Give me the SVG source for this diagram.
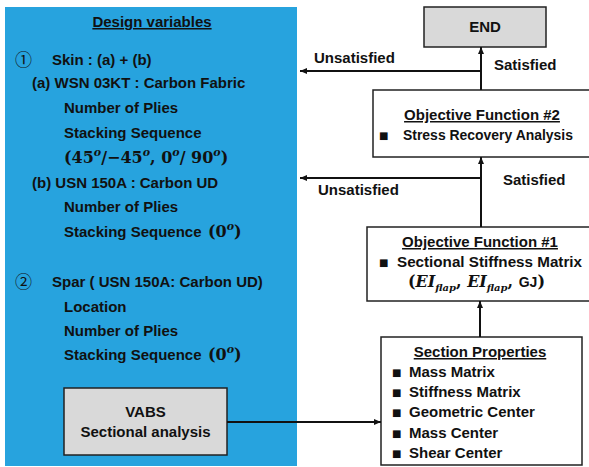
<svg xmlns="http://www.w3.org/2000/svg" width="589" height="467" viewBox="0 0 589 467">
<defs>
<style>
.t{font-family:"Liberation Sans",Arial,sans-serif;font-weight:bold;font-size:15px;fill:#111}
.u{text-decoration:underline}
.m{font-family:"DejaVu Serif",serif;font-weight:bold;font-size:16px;fill:#111}
.sup{font-style:italic;font-size:11px}
.c{font-family:"Noto Sans CJK JP","DejaVu Sans",sans-serif;font-size:17px;fill:#111}
.b{font-family:"DejaVu Sans",sans-serif;font-size:10px;fill:#111}
.box{fill:#fff;stroke:#222;stroke-width:1.5}
.gbox{fill:#d9d9d9;stroke:#222;stroke-width:1.5}
.ln{stroke:#111;stroke-width:2;fill:none}
</style>
<marker id="ah" markerWidth="8" markerHeight="8" refX="7" refY="4" orient="auto" markerUnits="userSpaceOnUse">
<path d="M0,1 L7,4 L0,7 Z" fill="#111"/>
</marker>
</defs>

<g id="design-variables">
<rect x="5" y="7" width="292" height="459" fill="#27a3de"/>
<text class="t u" x="152" y="27" text-anchor="middle">Design variables</text>
<text class="c" x="15" y="66">①</text>
<text class="t" x="52" y="65">Skin : (a) + (b)</text>
<text class="t" x="32" y="88">(a) WSN 03KT : Carbon Fabric</text>
<text class="t" x="64" y="113">Number of Plies</text>
<text class="t" x="64" y="138">Stacking Sequence</text>
<text class="m" x="64" y="163">(45<tspan class="sup" dy="-7">o</tspan><tspan dy="7">/−45</tspan><tspan class="sup" dy="-7">o</tspan><tspan dy="7">, 0</tspan><tspan class="sup" dy="-7">o</tspan><tspan dy="7">/ 90</tspan><tspan class="sup" dy="-7">o</tspan><tspan dy="7">)</tspan></text>
<text class="t" x="32" y="188">(b) USN 150A : Carbon UD</text>
<text class="t" x="64" y="212">Number of Plies</text>
<text class="t" x="64" y="237">Stacking Sequence</text>
<text class="m" x="208" y="237">(0<tspan class="sup" dy="-7">o</tspan><tspan dy="7">)</tspan></text>
<text class="c" x="15" y="288">②</text>
<text class="t" x="52" y="287">Spar ( USN 150A: Carbon UD)</text>
<text class="t" x="64" y="312">Location</text>
<text class="t" x="64" y="336">Number of Plies</text>
<text class="t" x="64" y="360">Stacking Sequence</text>
<text class="m" x="208" y="360">(0<tspan class="sup" dy="-7">o</tspan><tspan dy="7">)</tspan></text>
</g>

<g id="vabs">
<rect class="gbox" x="64" y="388" width="163" height="67"/>
<text class="t" x="145.5" y="417" text-anchor="middle">VABS</text>
<text class="t" x="145.5" y="437" text-anchor="middle">Sectional analysis</text>
</g>

<g id="end">
<rect class="gbox" x="424" y="7" width="122" height="40"/>
<text class="t" x="485" y="32" text-anchor="middle">END</text>
</g>

<g id="objective-2">
<rect class="box" x="373" y="90" width="222" height="67"/>
<text class="t u" x="482" y="120" text-anchor="middle">Objective Function #2</text>
<text class="b" x="379" y="139">■</text>
<text class="t" x="403" y="140" font-size="14" textLength="170" lengthAdjust="spacingAndGlyphs">Stress Recovery Analysis</text>
</g>

<g id="objective-1">
<rect class="box" x="367" y="227" width="228" height="74"/>
<text class="t u" x="480" y="247" text-anchor="middle">Objective Function #1</text>
<text class="b" x="379" y="266">■</text>
<text class="t" x="397" y="267" textLength="185" lengthAdjust="spacingAndGlyphs">Sectional Stiffness Matrix</text>
<text class="m" x="408" y="287" font-size="15">(<tspan font-style="italic">EI</tspan><tspan font-style="italic" font-size="10" dy="4">flap</tspan><tspan dy="-4">, </tspan><tspan font-style="italic">EI</tspan><tspan font-style="italic" font-size="10" dy="4">flap</tspan><tspan dy="-4">, </tspan><tspan font-family="Liberation Sans,Arial,sans-serif" font-size="14">GJ</tspan>)</text>
</g>

<g id="section-properties">
<rect class="box" x="381" y="337" width="201" height="128"/>
<text class="t u" x="480" y="357" text-anchor="middle">Section Properties</text>
<text class="b" x="392" y="376">■</text>
<text class="t" x="409" y="377">Mass Matrix</text>
<text class="b" x="392" y="396">■</text>
<text class="t" x="409" y="397">Stiffness Matrix</text>
<text class="b" x="392" y="416">■</text>
<text class="t" x="409" y="417">Geometric Center</text>
<text class="b" x="392" y="437">■</text>
<text class="t" x="409" y="438">Mass Center</text>
<text class="b" x="392" y="457">■</text>
<text class="t" x="409" y="458">Shear Center</text>
</g>

<g id="connectors">
<line class="ln" x1="481" y1="90" x2="481" y2="47" marker-end="url(#ah)"/>
<line class="ln" x1="481" y1="71" x2="300" y2="71" marker-end="url(#ah)"/>
<line class="ln" x1="481" y1="227" x2="481" y2="157" marker-end="url(#ah)"/>
<line class="ln" x1="481" y1="178" x2="300" y2="178" marker-end="url(#ah)"/>
<line class="ln" x1="480" y1="337" x2="480" y2="301" marker-end="url(#ah)"/>
<line class="ln" x1="227" y1="422" x2="381" y2="422" marker-end="url(#ah)"/>
<text class="t" x="314" y="63">Unsatisfied</text>
<text class="t" x="494" y="70">Satisfied</text>
<text class="t" x="503" y="185">Satisfied</text>
<text class="t" x="318" y="195">Unsatisfied</text>
</g>
</svg>
